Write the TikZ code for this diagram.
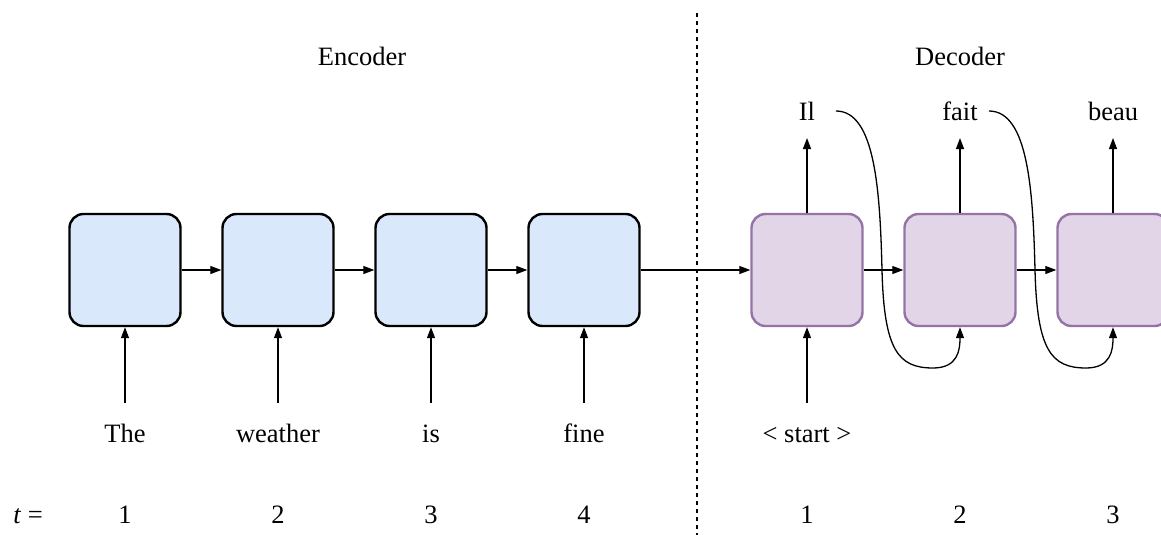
\documentclass[tikz,border=0pt]{standalone}
\usepackage{fontspec}
\setmainfont{Liberation Serif}
\usetikzlibrary{arrows.meta}
\definecolor{encfill}{HTML}{DAE8FC}
\definecolor{decfill}{HTML}{E1D5E7}
\definecolor{decdraw}{HTML}{9673A6}
\begin{document}
\begin{tikzpicture}[x=1pt,y=-1pt,
  cell/.style={rectangle, rounded corners=14pt, minimum width=111pt, minimum height=112pt, line width=2.4pt, inner sep=0pt},
  enc/.style={cell, draw=black, fill=encfill},
  dec/.style={cell, draw=decdraw, fill=decfill},
  lbl/.style={inner sep=0pt, anchor=base, font=\fontsize{26.5}{30}\selectfont},
  arr/.style={line width=1.3pt, -{Triangle[length=11pt,width=8pt]}},
  sep/.style={line width=1.3pt, dash pattern=on 4pt off 4pt}]
\clip (0,0) rectangle (1161,535);
% separator
\coordinate (dtop) at (697,13);
\coordinate (dbot) at (697,540);
\draw[sep] (dtop) -- (dbot);
% titles
\node[lbl] (enclbl) at (362,66) {Encoder};
\node[lbl] (declbl) at (960,66) {Decoder};
% encoder cells
\node[enc] (e1) at (125,270) {};
\node[enc] (e2) at (278,270) {};
\node[enc] (e3) at (431,270) {};
\node[enc] (e4) at (584,270) {};
% decoder cells
\node[dec] (d1) at (807,270) {};
\node[dec] (d2) at (960,270) {};
\node[dec] (d3) at (1113,270) {};
% horizontal links
\draw[arr] (e1.east) -- (e2.west);
\draw[arr] (e2.east) -- (e3.west);
\draw[arr] (e3.east) -- (e4.west);
\draw[arr] (e4.east) -- (d1.west);
\draw[arr] (d1.east) -- (d2.west);
\draw[arr] (d2.east) -- (d3.west);
% input words
\node[lbl] (w1) at (125,442) {The};
\node[lbl] (w2) at (278,442) {weather};
\node[lbl] (w3) at (431,442) {is};
\node[lbl] (w4) at (584,442) {fine};
\node[lbl] (w5) at (807,442) {< start >};
\coordinate (i1) at (125,403);
\coordinate (i2) at (278,403);
\coordinate (i3) at (431,403);
\coordinate (i4) at (584,403);
\coordinate (i5) at (807,403);
\draw[arr] (i1) -- (e1.south);
\draw[arr] (i2) -- (e2.south);
\draw[arr] (i3) -- (e3.south);
\draw[arr] (i4) -- (e4.south);
\draw[arr] (i5) -- (d1.south);
% outputs
\node[lbl] (o1) at (807,120) {Il};
\node[lbl] (o2) at (960,120) {fait};
\node[lbl] (o3) at (1113,120) {beau};
\coordinate (u1) at (807,138);
\coordinate (u2) at (960,138);
\coordinate (u3) at (1113,138);
\draw[arr] (d1.north) -- (u1);
\draw[arr] (d2.north) -- (u2);
\draw[arr] (d3.north) -- (u3);
% feedback curves
\coordinate (c1) at (836,111);
\coordinate (c2) at (989,111);
\draw[arr] (c1) .. controls (875,111) and (880,190) .. (882,270)
  .. controls (884,350) and (898,368) .. (933,368)
  .. controls (958,368) and (960,350) .. (d2.south);
\draw[arr] (c2) .. controls (1028,111) and (1033,190) .. (1035,270)
  .. controls (1037,350) and (1051,368) .. (1086,368)
  .. controls (1111,368) and (1113,350) .. (d3.south);
% time steps
\node[lbl] (tl) at (28,523) {\textit{t} =};
\node[lbl] (t1) at (125,523) {1};
\node[lbl] (t2) at (278,523) {2};
\node[lbl] (t3) at (431,523) {3};
\node[lbl] (t4) at (584,523) {4};
\node[lbl] (t5) at (807,523) {1};
\node[lbl] (t6) at (960,523) {2};
\node[lbl] (t7) at (1113,523) {3};
\end{tikzpicture}
\end{document}
